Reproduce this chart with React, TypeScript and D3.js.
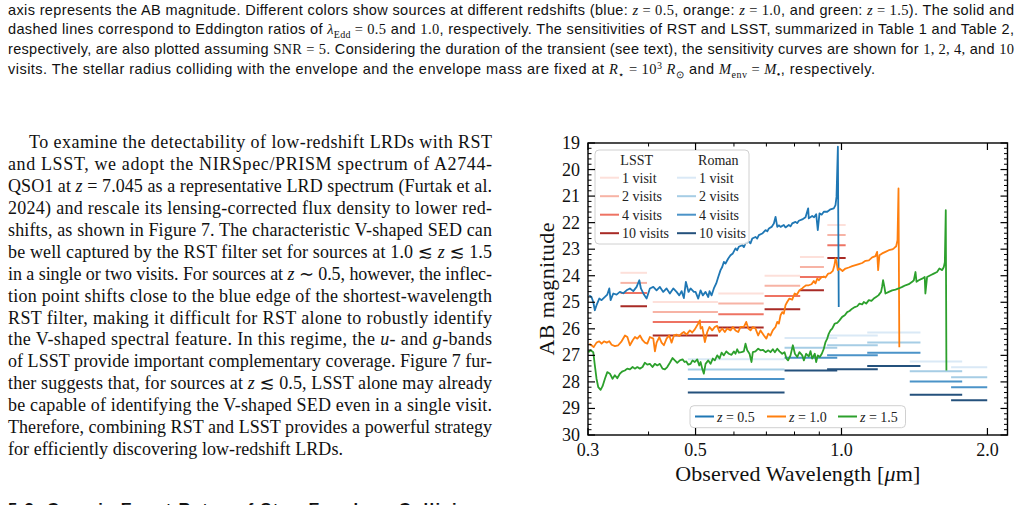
import React from "react";
import * as d3 from "d3";

type Pt = [number, number];

// ---------- spectra: [observed wavelength (um), AB magnitude] ----------
const specZ05: Pt[] = [
  [0.3018, 24.74], [0.305, 24.8], [0.3076, 24.99], [0.3099, 25.3], [0.3124, 25.11], [0.3165, 24.86],
  [0.32, 24.92], [0.3251, 24.8], [0.3288, 24.71], [0.3319, 24.48], [0.334, 24.92], [0.3383, 24.67],
  [0.3436, 24.71], [0.349, 24.61], [0.3548, 24.66], [0.3603, 24.55], [0.3661, 24.48], [0.372, 24.58],
  [0.3779, 24.42], [0.3828, 24.17], [0.3857, 24.48], [0.3913, 24.71], [0.3963, 24.86], [0.4025, 24.48],
  [0.4091, 24.42], [0.4155, 24.55], [0.4221, 24.42], [0.4289, 24.61], [0.4357, 24.48], [0.4426, 24.67],
  [0.4498, 24.48], [0.4569, 24.61], [0.4628, 24.74], [0.4679, 24.58], [0.473, 24.84], [0.4775, 24.23],
  [0.4836, 24.61], [0.4883, 24.48], [0.496, 24.61], [0.5, 24.61], [0.5064, 24.86], [0.5121, 24.55],
  [0.5176, 24.74], [0.5243, 24.61], [0.5311, 24.8], [0.5343, 24.58], [0.5395, 24.74], [0.5454, 24.48],
  [0.5516, 24.29], [0.5569, 24.05], [0.563, 23.79], [0.5675, 23.67], [0.5719, 23.48], [0.5765, 23.54],
  [0.584, 23.35], [0.5903, 23.23], [0.5969, 23.16], [0.6045, 22.97], [0.609, 23.04], [0.614, 22.91],
  [0.6241, 22.85], [0.629, 22.92], [0.6339, 22.78], [0.644, 22.72], [0.649, 22.78], [0.6545, 22.6],
  [0.6647, 22.54], [0.67, 22.6], [0.6753, 22.47], [0.6863, 22.41], [0.6972, 22.28], [0.703, 22.33],
  [0.7083, 22.22], [0.7175, 22.16], [0.7253, 22.03], [0.7312, 21.78], [0.7371, 22.16], [0.743, 22.1],
  [0.7487, 22.16], [0.7604, 22.09], [0.7665, 22.18], [0.7786, 22.09], [0.785, 22.14], [0.7913, 22.03],
  [0.8038, 21.97], [0.81, 22.02], [0.8166, 21.93], [0.8299, 21.88], [0.8430, 21.8], [0.8536, 21.46],
  [0.8561, 21.84], [0.87, 21.75], [0.878, 21.8], [0.8867, 21.68], [0.8935, 22.28], [0.9008, 21.65],
  [0.91, 21.7], [0.9194, 21.59], [0.9344, 21.59], [0.942, 21.54], [0.9491, 21.5], [0.9641, 21.46],
  [0.9719, 21.34], [0.9766, 21.03], [0.983, 19.14], [0.987, 25.18],
];

const specZ10: Pt[] = [
  [0.3018, 26.56], [0.305, 26.62], [0.3082, 26.69], [0.3124, 26.52], [0.3165, 26.47], [0.32, 26.56],
  [0.3237, 26.47], [0.3279, 26.52], [0.3319, 26.47], [0.3356, 26.6], [0.3409, 26.65], [0.3463, 26.62],
  [0.3519, 26.47], [0.3576, 26.25], [0.3617, 26.31], [0.3661, 26.62], [0.371, 26.43], [0.375, 26.31],
  [0.3792, 26.37], [0.384, 26.25], [0.3888, 26.43], [0.3931, 26.52], [0.3976, 26.56], [0.4025, 26.31],
  [0.4091, 26.37], [0.4123, 26.85], [0.4155, 26.52], [0.4209, 26.31], [0.4255, 26.52], [0.4302, 26.62],
  [0.4357, 26.37], [0.4413, 26.25], [0.4462, 26.52], [0.4512, 26.25], [0.4569, 26.22], [0.4628, 26.27],
  [0.4679, 26.18], [0.473, 26.12], [0.4791, 26.22], [0.4867, 26.06], [0.4921, 26.14], [0.4982, 26.02],
  [0.5064, 25.8], [0.5103, 25.68], [0.5121, 25.99], [0.5162, 25.93], [0.5226, 26.5], [0.5286, 26.12],
  [0.5343, 25.93], [0.5411, 26.06], [0.5478, 25.93], [0.5541, 25.89], [0.5602, 26.12], [0.5675, 25.99],
  [0.5745, 26.12], [0.581, 25.99], [0.5903, 26.06], [0.5969, 25.93], [0.6045, 26.06], [0.6123, 26.12],
  [0.619, 25.93], [0.629, 25.93], [0.6362, 25.74], [0.6424, 25.99], [0.6491, 26.06], [0.6564, 25.93],
  [0.6647, 25.99], [0.6732, 26.25], [0.6808, 26.06], [0.6918, 26.25], [0.6998, 26.37], [0.7064, 26.18],
  [0.7138, 26.25], [0.7214, 26.06], [0.7309, 25.93], [0.7371, 25.74], [0.7428, 25.8], [0.7487, 25.49],
  [0.7547, 25.37], [0.7604, 25.43], [0.7665, 25.11], [0.7726, 24.99], [0.7808, 24.86], [0.7913, 24.9],
  [0.8004, 24.67], [0.8094, 24.71], [0.819, 24.55], [0.8299, 24.48], [0.8364, 24.42], [0.8455, 24.36],
  [0.8561, 24.36], [0.8673, 24.32], [0.8767, 24.2], [0.8837, 24.29], [0.8913, 24.11], [0.898, 24.17],
  [0.9094, 24.05], [0.9194, 24.03], [0.9269, 24.07], [0.9389, 23.92], [0.9491, 23.9], [0.9596, 23.82],
  [0.9673, 23.6], [0.9719, 23.35], [0.9766, 23.48], [0.9826, 23.79], [0.9905, 23.73], [1.0048, 23.82],
  [1.019, 23.73], [1.0353, 23.69], [1.0521, 23.64], [1.069, 23.6], [1.0857, 23.56], [1.1032, 23.52],
  [1.121, 23.44], [1.1386, 23.42], [1.1569, 23.31], [1.175, 23.26], [1.1844, 23.1], [1.1901, 23.79],
  [1.1975, 23.23], [1.213, 23.16], [1.2322, 23.1], [1.2521, 23.04], [1.2722, 23.01], [1.282, 22.97],
  [1.2966, 22.89], [1.3047, 22.66], [1.311, 20.71], [1.316, 26.69],
];

const specZ15: Pt[] = [
  [0.3004, 26.88], [0.3038, 26.81], [0.3076, 26.88], [0.3099, 27.38], [0.3124, 27.88], [0.315, 28.2],
  [0.3185, 28.3], [0.3215, 28.16], [0.3251, 27.88], [0.3288, 27.63], [0.3329, 27.69], [0.3371, 27.88],
  [0.3408, 27.75], [0.3447, 27.86], [0.349, 27.69], [0.3535, 27.6], [0.3574, 27.57], [0.3615, 27.5],
  [0.3661, 27.53], [0.3708, 27.44], [0.3748, 27.5], [0.3792, 27.44], [0.3838, 27.5], [0.3887, 27.44],
  [0.393, 27.28], [0.3975, 27.35], [0.4025, 27.32], [0.4076, 27.44], [0.4121, 27.32], [0.4169, 27.38],
  [0.422, 27.32], [0.4274, 27.5], [0.4322, 27.53], [0.4371, 27.44], [0.4426, 27.28], [0.4483, 27.1],
  [0.4532, 27.19], [0.4584, 27.28], [0.4641, 27.19], [0.4701, 27.15], [0.4746, 27.25], [0.4785, 27.23],
  [0.483, 27.35], [0.4883, 27.32], [0.4929, 27.19], [0.4983, 27.25], [0.504, 27.15], [0.5089, 27.38],
  [0.5121, 27.25], [0.5161, 27.5], [0.5201, 27.69], [0.5243, 27.32], [0.5311, 27.19], [0.5369, 27.32],
  [0.5427, 27.12], [0.5479, 27.19], [0.5542, 27.0], [0.5604, 27.12], [0.5657, 26.9], [0.5719, 27.0],
  [0.5785, 26.85], [0.5856, 26.94], [0.5932, 26.98], [0.5997, 26.85], [0.6045, 26.94], [0.6094, 26.77],
  [0.614, 26.9], [0.6219, 26.88], [0.6288, 26.85], [0.6339, 26.56], [0.6391, 26.81], [0.6461, 26.94],
  [0.6522, 27.25], [0.6563, 26.88], [0.6647, 26.85], [0.6732, 26.75], [0.6808, 26.81], [0.6883, 26.79],
  [0.6972, 26.88], [0.7064, 26.81], [0.7138, 26.88], [0.7218, 26.77], [0.7287, 26.88], [0.7371, 26.75],
  [0.745, 26.85], [0.7546, 26.94], [0.763, 26.88], [0.77, 27.12], [0.776, 27.19], [0.7849, 27.0],
  [0.7938, 26.62], [0.8015, 26.94], [0.8107, 27.06], [0.819, 26.88], [0.8299, 27.0], [0.8364, 27.19],
  [0.8455, 26.94], [0.8561, 27.04], [0.8632, 26.84], [0.87, 27.12], [0.8809, 26.94], [0.8867, 27.25],
  [0.8935, 27.0], [0.9021, 27.06], [0.9108, 26.94], [0.9194, 26.75], [0.9269, 26.5], [0.9344, 26.37],
  [0.9416, 26.18], [0.9491, 26.06], [0.9567, 25.99], [0.9687, 25.8], [0.9798, 25.78], [0.9905, 25.68],
  [1.0033, 25.55], [1.0158, 25.49], [1.0274, 25.37], [1.0387, 25.33], [1.0521, 25.24], [1.0652, 25.18],
  [1.0775, 25.15], [1.0893, 25.05], [1.1032, 25.08], [1.1118, 24.99], [1.1245, 25.05], [1.1386, 24.92],
  [1.1529, 24.95], [1.1655, 24.86], [1.1786, 24.8], [1.1916, 24.74], [1.2068, 24.61], [1.2126, 24.42],
  [1.2184, 24.17], [1.226, 24.42], [1.2322, 24.67], [1.2521, 24.61], [1.2722, 24.55], [1.2923, 24.52],
  [1.312, 24.48], [1.3346, 24.42], [1.355, 24.36], [1.3766, 24.32], [1.399, 24.23], [1.41, 24.17],
  [1.4212, 23.86], [1.428, 24.23], [1.4436, 24.17], [1.4667, 24.11], [1.4848, 24.05], [1.4895, 24.67],
  [1.5015, 24.05], [1.5259, 23.98], [1.5499, 23.92], [1.5744, 23.86], [1.592, 23.73], [1.6131, 23.79],
  [1.6257, 23.67], [1.6337, 23.49], [1.641, 21.53], [1.646, 27.57],
];

const redshiftLabels = ["0.5", "1.0", "1.5"];
const specColors = ["#1f77b4", "#ff7f0e", "#2ca02c"];

// ---------- LSST (ugrizy) 5-sigma depths ----------
const lsstLo = [0.35, 0.408, 0.557, 0.694, 0.821, 0.935];
const lsstHi = [0.397, 0.556, 0.691, 0.822, 0.92, 1.02];
const lsstVisit1 = [23.89, 24.99, 24.67, 24.0, 23.29, 22.09];
const lsstVisit2 = [24.27, 25.37, 25.05, 24.38, 23.67, 22.47];
const lsstVisit4 = [24.65, 25.74, 25.45, 24.76, 24.05, 22.85];
const lsstVisit10 = [25.15, 26.25, 25.95, 25.26, 24.55, 23.33];

// ---------- Roman (F062 ... F184) 5-sigma depths ----------
const romanLo = [0.482, 0.763, 0.934, 1.13, 1.383, 1.683];
const romanHi = [0.763, 0.98, 1.188, 1.455, 1.774, 1.998];
const romanVisit1 = [27.15, 26.35, 26.25, 26.14, 27.23, 27.45];
const romanVisit2 = [27.53, 26.71, 26.62, 26.52, 27.6, 27.82];
const romanVisit4 = [27.89, 27.09, 27.0, 26.9, 27.98, 28.2];
const romanVisit10 = [28.4, 27.57, 27.52, 27.4, 28.48, 28.69];

const visitLabels = ["1 visit", "2 visits", "4 visits", "10 visits"];
const lsstColors = ["#fde0da", "#f7b3a5", "#ee7363", "#a82a25"];
const romanColors = ["#dae9f6", "#a6cde5", "#4b93c8", "#24517c"];

// ---------- axes ----------
const xMajor = [0.3, 0.5, 1.0, 2.0];
const xMajorLabels = ["0.3", "0.5", "1.0", "2.0"];
const xMinor = [0.4, 0.6, 0.7, 0.8, 0.9];
const yMajor = [19, 20, 21, 22, 23, 24, 25, 26, 27, 28, 29, 30];

const SANS = "'Liberation Sans', Arial, Helvetica, sans-serif";
const SERIF = "'Liberation Serif', 'Times New Roman', Times, serif";
const SYM = "'DejaVu Serif', 'DejaVu Sans', serif";

const PL = 588, PR = 1007.5, PT = 143, PB = 435;

type Part = string | { i: string } | { sub: string } | { sup: string } | { m: string } | { s: string };

// caption lines (sans text with serif math)
const captionLines: { parts: Part[]; width: number }[] = [
  {
    width: 1006,
    parts: [
      "axis represents the AB magnitude. Different colors show sources at different redshifts (blue: ",
      { i: "z" }, { m: " = 0.5" }, ", orange: ", { i: "z" }, { m: " = 1.0" }, ", and green: ",
      { i: "z" }, { m: " = 1.5" }, "). The solid and",
    ],
  },
  {
    width: 1006,
    parts: [
      "dashed lines correspond to Eddington ratios of ", { i: "λ" }, { sub: "Edd" }, { m: " = 0.5" },
      " and ", { m: "1.0" }, ", respectively. The sensitivities of RST and LSST, summarized in Table 1 and Table 2,",
    ],
  },
  {
    width: 1006,
    parts: [
      "respectively, are also plotted assuming ", { m: "SNR = 5" },
      ". Considering the duration of the transient (see text), the sensitivity curves are shown for ",
      { m: "1, 2, 4," }, " and ", { m: "10" },
    ],
  },
  {
    width: 867,
    parts: [
      "visits. The stellar radius colliding with the envelope and the envelope mass are fixed at ",
      { i: "R" }, { sub: "⋆" }, { m: " = 10" }, { sup: "3" }, { m: " " }, { i: "R" }, { sub: "⊙" },
      " and ", { i: "M" }, { sub: "env" }, { m: " = " }, { i: "M" }, { sub: "•" }, ", respectively.",
    ],
  },
];

// body paragraph lines (justified, last line ragged)
const bodyLines: Part[][] = [
  ["To examine the detectability of low-redshift LRDs with RST"],
  ["and LSST, we adopt the NIRSpec/PRISM spectrum of A2744-"],
  ["QSO1 at ", { i: "z" }, " = 7.045 as a representative LRD spectrum (Furtak et al."],
  ["2024) and rescale its lensing-corrected flux density to lower red-"],
  ["shifts, as shown in Figure 7. The characteristic V-shaped SED can"],
  ["be well captured by the RST filter set for sources at 1.0 ", { s: "≲" }, " ", { i: "z" }, " ", { s: "≲" }, " 1.5"],
  ["in a single or two visits. For sources at ", { i: "z" }, " ∼ 0.5, however, the inflec-"],
  ["tion point shifts close to the blue edge of the shortest-wavelength"],
  ["RST filter, making it difficult for RST alone to robustly identify"],
  ["the V-shaped spectral feature. In this regime, the ", { i: "u" }, "- and ", { i: "g" }, "-bands"],
  ["of LSST provide important complementary coverage. Figure 7 fur-"],
  ["ther suggests that, for sources at ", { i: "z" }, " ", { s: "≲" }, " 0.5, LSST alone may already"],
  ["be capable of identifying the V-shaped SED even in a single visit."],
  ["Therefore, combining RST and LSST provides a powerful strategy"],
  ["for efficiently discovering low-redshift LRDs."],
];

function renderParts(parts: Part[], mathFont: string, subSize: number) {
  let shift = 0;
  return parts.map((p, k) => {
    if (typeof p === "string") {
      const dy = -shift;
      shift = 0;
      return <tspan key={k} dy={dy || undefined}>{p}</tspan>;
    }
    if ("i" in p) {
      const dy = -shift;
      shift = 0;
      return (
        <tspan key={k} dy={dy || undefined} fontFamily={mathFont} fontStyle="italic">
          {p.i}
        </tspan>
      );
    }
    if ("m" in p) {
      const dy = -shift;
      shift = 0;
      return (
        <tspan key={k} dy={dy || undefined} fontFamily={mathFont}>
          {p.m}
        </tspan>
      );
    }
    if ("s" in p) {
      const dy = -shift;
      shift = 0;
      return (
        <tspan key={k} dy={dy || undefined} fontFamily={SYM}>
          {p.s}
        </tspan>
      );
    }
    if ("sub" in p) {
      const dy = 3.5 - shift;
      shift = 3.5;
      return (
        <tspan key={k} dy={dy} fontFamily={mathFont} fontSize={subSize}>
          {p.sub}
        </tspan>
      );
    }
    const dy = -5.5 - shift;
    shift = -5.5;
    return (
      <tspan key={k} dy={dy} fontFamily={mathFont} fontSize={subSize}>
        {p.sup}
      </tspan>
    );
  });
}

export default function App() {
  const x = d3.scaleLog().domain([0.3, 2.2]).range([PL, PR]);
  const y = d3.scaleLinear().domain([19, 30]).range([PT, PB]);
  const line = d3
    .line<Pt>()
    .x((d) => x(d[0]))
    .y((d) => y(d[1]));

  const spectra = [specZ05, specZ10, specZ15];
  const lsstDepths = [lsstVisit1, lsstVisit2, lsstVisit4, lsstVisit10];
  const romanDepths = [romanVisit1, romanVisit2, romanVisit4, romanVisit10];
  const yMinor = d3.range(19, 30.001, 0.2).filter((v) => Math.abs(v - Math.round(v)) > 1e-6);

  const bodyTop = 148.3;
  const bodyStep = 21.9;

  return (
    <div
      style={{
        position: "fixed",
        left: 0,
        top: 0,
        width: 1022,
        height: 505,
        overflow: "hidden",
        background: "#fff",
      }}
    >
      <svg width={1022} height={505} viewBox="0 0 1022 505" style={{ display: "block" }}>
        <rect width={1022} height={505} fill="#fff" />

        {/* figure caption */}
        {captionLines.map((ln, k) => (
          <text
            key={k}
            x={8}
            y={14.5 + k * 19.9}
            fontFamily={SANS}
            fontSize={14.5}
            fill="#111"
            textLength={ln.width}
            lengthAdjust="spacing"
          >
            {renderParts(ln.parts, SERIF, 10)}
          </text>
        ))}

        {/* body text column */}
        {bodyLines.map((ln, k) => {
          const last = k === bodyLines.length - 1;
          const x0 = k === 0 ? 29 : 8;
          return (
            <text
              key={k}
              x={x0}
              y={bodyTop + k * bodyStep}
              fontFamily={SERIF}
              fontSize={18}
              fill="#111"
              textLength={last ? 335 : 492 - x0}
              lengthAdjust="spacing"
            >
              {renderParts(ln, SERIF, 12)}
            </text>
          );
        })}
        <text
          x={8}
          y={515}
          fontFamily={SANS}
          fontSize={16.5}
          fontWeight="bold"
          fill="#111"
          textLength={482}
          lengthAdjust="spacing"
        >
          5.3. Cosmic Event Rates of Star–Envelope Collisions
        </text>

        {/* chart */}
        <defs>
          <clipPath id="plotClip">
            <rect x={PL} y={PT} width={PR - PL} height={PB - PT} />
          </clipPath>
        </defs>

        <g clipPath="url(#plotClip)">
          {lsstDepths.map((depths, v) =>
            depths.map((m, b) => (
              <line
                key={`l${v}-${b}`}
                x1={x(lsstLo[b])}
                x2={x(lsstHi[b])}
                y1={y(m)}
                y2={y(m)}
                stroke={lsstColors[v]}
                strokeWidth={2}
              />
            ))
          )}
          {romanDepths.map((depths, v) =>
            depths.map((m, b) => (
              <line
                key={`r${v}-${b}`}
                x1={x(romanLo[b])}
                x2={x(romanHi[b])}
                y1={y(m)}
                y2={y(m)}
                stroke={romanColors[v]}
                strokeWidth={2}
              />
            ))
          )}
          {spectra.map((s, k) => (
            <path
              key={k}
              d={line(s) || ""}
              fill="none"
              stroke={specColors[k]}
              strokeWidth={1.8}
              strokeLinejoin="round"
            />
          ))}
        </g>

        {/* visits legend */}
        <g fontFamily={SERIF} fontSize={14} fill="#222">
          <rect x={595} y={150} width={154} height={94} rx={4} fill="#fff" fillOpacity={0.8} stroke="#d0d0d0" strokeWidth={1} />
          <text x={636.7} y={165} textAnchor="middle">LSST</text>
          <text x={718.3} y={165} textAnchor="middle">Roman</text>
          {visitLabels.map((lab, v) => {
            const cy = 177.7 + v * 18.5;
            return (
              <g key={v}>
                <line x1={600} x2={619} y1={cy} y2={cy} stroke={lsstColors[v]} strokeWidth={2} />
                <text x={622} y={cy + 5}>{lab}</text>
                <line x1={677} x2={696} y1={cy} y2={cy} stroke={romanColors[v]} strokeWidth={2} />
                <text x={699} y={cy + 5}>{lab}</text>
              </g>
            );
          })}
        </g>

        {/* redshift legend */}
        <g fontFamily={SERIF} fontSize={14} fill="#222">
          <rect x={690} y={405.7} width={215.5} height={22} rx={4} fill="#fff" fillOpacity={0.8} stroke="#d0d0d0" strokeWidth={1} />
          {redshiftLabels.map((lab, k) => {
            const hx = [695, 767, 838][k];
            return (
              <g key={k}>
                <line x1={hx} x2={hx + 19} y1={416.5} y2={416.5} stroke={specColors[k]} strokeWidth={2} />
                <text x={hx + 22} y={421.5}>
                  <tspan fontStyle="italic">z</tspan>
                  {` = ${lab}`}
                </text>
              </g>
            );
          })}
        </g>

        {/* frame */}
        <rect x={PL} y={PT} width={PR - PL} height={PB - PT} fill="none" stroke="#000" strokeWidth={1.4} />

        {/* ticks */}
        <g stroke="#000">
          {xMajor.map((v) => (
            <g key={`xM${v}`} strokeWidth={1.2}>
              <line x1={x(v)} x2={x(v)} y1={PB} y2={PB - 7} />
              <line x1={x(v)} x2={x(v)} y1={PT} y2={PT + 7} />
            </g>
          ))}
          {xMinor.map((v) => (
            <g key={`xm${v}`} strokeWidth={1}>
              <line x1={x(v)} x2={x(v)} y1={PB} y2={PB - 3.5} />
              <line x1={x(v)} x2={x(v)} y1={PT} y2={PT + 3.5} />
            </g>
          ))}
          {yMajor.map((v) => (
            <g key={`yM${v}`} strokeWidth={1.2}>
              <line x1={PL} x2={PL + 7} y1={y(v)} y2={y(v)} />
              <line x1={PR} x2={PR - 7} y1={y(v)} y2={y(v)} />
            </g>
          ))}
          {yMinor.map((v) => (
            <g key={`ym${v.toFixed(1)}`} strokeWidth={1}>
              <line x1={PL} x2={PL + 3.5} y1={y(v)} y2={y(v)} />
              <line x1={PR} x2={PR - 3.5} y1={y(v)} y2={y(v)} />
            </g>
          ))}
        </g>

        {/* tick labels */}
        <g fontFamily={SERIF} fontSize={18} fill="#111">
          {xMajor.map((v, k) => (
            <text key={`xl${v}`} x={x(v)} y={456} textAnchor="middle">
              {xMajorLabels[k]}
            </text>
          ))}
          {yMajor.map((v) => (
            <text key={`yl${v}`} x={580} y={y(v) + 6} textAnchor="end">
              {v}
            </text>
          ))}
        </g>

        {/* axis titles */}
        <text
          x={(PL + PR) / 2}
          y={481}
          textAnchor="middle"
          fontFamily={SERIF}
          fontSize={22}
          fill="#111"
          textLength={245}
          lengthAdjust="spacing"
        >
          Observed Wavelength [<tspan fontStyle="italic">μ</tspan>m]
        </text>
        <text
          transform={`translate(554, ${(PT + PB) / 2}) rotate(-90)`}
          textAnchor="middle"
          fontFamily={SERIF}
          fontSize={22}
          fill="#111"
          textLength={133}
          lengthAdjust="spacing"
        >
          AB magnitude
        </text>
      </svg>
    </div>
  );
}
